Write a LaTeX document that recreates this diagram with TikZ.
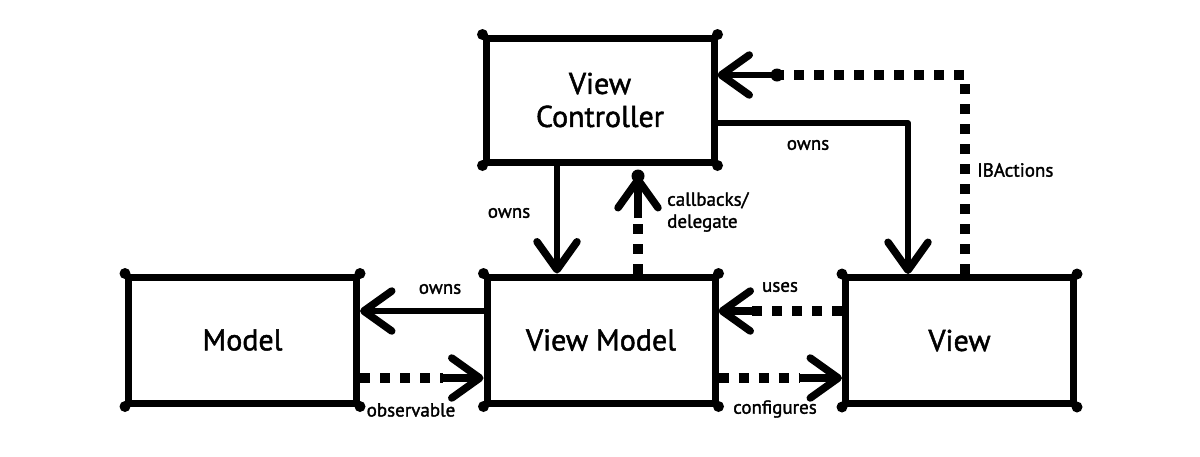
\documentclass[tikz,border=0pt]{standalone}
\usepackage{fontspec}
\setmainfont{PT Sans}[FakeBold=1.6]
\usetikzlibrary{arrows.meta}
\begin{document}
\begin{tikzpicture}[x=1pt,y=-1pt,
  box/.style={draw, line width=7pt, inner sep=0pt, align=center,
    font=\fontsize{30}{33}\selectfont, minimum width=228pt, minimum height=124pt},
  lbl/.style={font=\fontsize{19}{22}\selectfont, inner sep=1pt, align=left},
  tipb/.style={-{Straight Barb[length=28pt,width=40pt,line width=7.5pt,round]}},
  own/.style={line width=6pt, line cap=round, line join=round, tipb},
  dep/.style={line width=10pt, dash pattern=on 10pt off 10pt},
  stem/.style={line width=8pt, tipb},
  dot/.style={fill, circle, inner sep=0pt, minimum size=13pt}
]
\useasboundingbox (0,0) rectangle (1200,456);

\node[box] (vc) at (600,100) {View\\Controller};
\node[box, minimum height=126pt] (model) at (242.5,340) {Model};
\node[box, minimum height=126pt] (vm) at (601,340) {View Model};
\node[box, minimum height=126pt] (view) at (959.5,340.5) {View};

\foreach \n in {vc,model,vm,view}
  \foreach \a in {north east,north west,south east,south west}
    \fill (\n.\a) circle (5.5pt);

% View Controller -> View Model (owns)
\draw[own] (vc.south -| 557,0) -- (vm.north -| 557,0);
\node[lbl] (l1) at (509,213) {owns};

% View Model -> View Controller (callbacks/delegate)
\coordinate (k2) at (638,218);
\coordinate (t2) at (638,176);
\draw[dep] (vm.north -| 638,0) -- (k2);
\draw[stem] (k2) -- (t2);
\node[dot] (d2) at (t2) {};
\node[lbl, anchor=west] (l2) at (666,212) {callbacks/\\delegate};

% View Controller -> View (owns)
\draw[own] (vc.east |- 0,123) -- (908,123) -- (view.north -| 908,0);
\node[lbl] (l3) at (808,145) {owns};

% View -> View Controller (IBActions)
\coordinate (k4) at (777,75);
\draw[dep] (view.north -| 965,0) -- (965,75) -- (k4);
\draw[stem, line width=6pt] (k4) -- (vc.east |- 0,75);
\node[dot] (d4) at (k4) {};
\node[lbl, anchor=west] (l4) at (976,170) {IBActions};

% View Model -> Model (owns)
\draw[own] (vm.west |- 0,311) -- (model.east |- 0,311);
\node[lbl] (l5) at (440,289) {owns};

% Model -> View Model (observable)
\coordinate (k6) at (443,378);
\draw[dep] (model.east |- 0,378) -- (k6);
\draw[stem] (k6) -- (vm.west |- 0,378);
\node[lbl] (l6) at (411,410) {observable};

% View -> View Model (uses)
\coordinate (k7) at (752,311);
\draw[dep] (view.west |- 0,311) -- (k7);
\draw[stem] (k7) -- (vm.east |- 0,311);
\node[lbl] (l7) at (780,287) {uses};

% View Model -> View (configures)
\coordinate (k8) at (800,378);
\draw[dep] (vm.east |- 0,378) -- (k8);
\draw[stem] (k8) -- (view.west |- 0,378);
\node[lbl] (l8) at (775,409) {configures};
\end{tikzpicture}
\end{document}
